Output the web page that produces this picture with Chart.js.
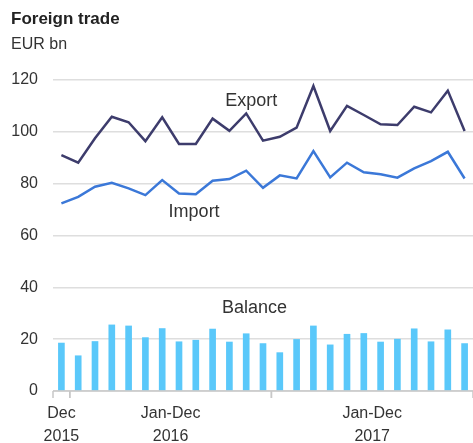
<!DOCTYPE html>
<html>
<head>
<meta charset="utf-8">
<script src="https://cdn.jsdelivr.net/npm/chart.js@4.4.1/dist/chart.umd.min.js"></script>
<style>
  html, body { margin: 0; padding: 0; background: #fff; }
  #wrap { position: relative; width: 473px; height: 443px; font-family: "Liberation Sans", Arial, sans-serif; }
  #title { position: absolute; left: 11px; top: 9px; font-size: 17px; font-weight: bold; color: #222; }
  #unit { position: absolute; left: 11px; top: 35px; font-size: 16px; color: #333; }
  canvas { position: absolute; left: 0; top: 0; }
</style>
</head>
<body>
<div id="wrap">
  <canvas id="chart" width="473" height="443"></canvas>
  <div id="title">Foreign trade</div>
  <div id="unit">EUR bn</div>
</div>
<script>
// Dec 2015 .. Dec 2017, monthly, EUR bn
const months = ['Dec 2015',
  'Jan 2016','Feb 2016','Mar 2016','Apr 2016','May 2016','Jun 2016','Jul 2016','Aug 2016','Sep 2016','Oct 2016','Nov 2016','Dec 2016',
  'Jan 2017','Feb 2017','Mar 2017','Apr 2017','May 2017','Jun 2017','Jul 2017','Aug 2017','Sep 2017','Oct 2017','Nov 2017','Dec 2017'];
const exportVals = [91.0, 88.1, 97.5, 105.8, 103.7, 96.4, 105.6, 95.3, 95.3, 105.1, 100.4, 107.1,
  96.6, 98.1, 101.6, 117.7, 100.3, 110.0, 106.5, 102.9, 102.6, 109.7, 107.5, 115.9, 100.3];
const importVals = [72.4, 74.9, 78.8, 80.3, 78.2, 75.6, 81.4, 76.2, 75.9, 81.1, 81.8, 85.0,
  78.4, 83.2, 82.0, 92.6, 82.4, 88.1, 84.4, 83.6, 82.3, 85.9, 88.7, 92.3, 82.0];
const balanceVals = [18.5, 13.6, 19.1, 25.5, 25.1, 20.6, 24.1, 19.0, 19.6, 23.9, 18.9, 22.1,
  18.3, 14.8, 19.9, 25.1, 17.8, 21.9, 22.2, 18.9, 20.0, 24.0, 19.0, 23.6, 18.3];
const yTicks = [0, 20, 40, 60, 80, 100, 120];

// x axis groups: label lines, first and last month index
const groupLabels = [['Dec', '2015'], ['Jan-Dec', '2016'], ['Jan-Dec', '2017']];
const groupFirst = [0, 1, 13];
const groupLast = [0, 12, 24];

const TXT = '#333', GRID = '#dedede';
const NAVY = '#3d3c6c', BLUE = '#3b78d8', LIGHT = '#5ac8fa';
const FONT = '"Liberation Sans", Arial, sans-serif';

// draws x axis group labels, tick marks and the series labels
const extras = {
  id: 'extras',
  afterDraw(chart) {
    const ctx = chart.ctx, x = chart.scales.x, y = chart.scales.y;
    const bottom = chart.chartArea.bottom;
    ctx.save();
    // baseline
    ctx.strokeStyle = '#c8c8c8';
    ctx.lineWidth = 1.5;
    ctx.beginPath();
    ctx.moveTo(chart.chartArea.left, y.getPixelForValue(0));
    ctx.lineTo(chart.chartArea.right, y.getPixelForValue(0));
    ctx.stroke();
    ctx.font = '16px ' + FONT;
    ctx.fillStyle = TXT;
    ctx.textAlign = 'center';
    ctx.textBaseline = 'middle';
    groupLabels.forEach((lines, i) => {
      const xl = x.getPixelForValue(groupFirst[i] - 0.5);
      const xr = x.getPixelForValue(groupLast[i] + 0.5);
      ctx.beginPath();
      [xl, xr].forEach(px => { ctx.moveTo(px, bottom); ctx.lineTo(px, bottom + 7); });
      ctx.stroke();
      const cx = (xl + xr) / 2;
      ctx.fillText(lines[0], cx, bottom + 23);
      ctx.fillText(lines[1], cx, bottom + 46);
    });
    ctx.font = '18px ' + FONT;
    ctx.fillText('Export', x.getPixelForValue(11.3), y.getPixelForValue(112));
    ctx.fillText('Import', x.getPixelForValue(7.9), y.getPixelForValue(69));
    ctx.fillText('Balance', x.getPixelForValue(11.5), y.getPixelForValue(32));
    ctx.restore();
  }
};

new Chart(document.getElementById('chart'), {
  type: 'bar',
  data: {
    labels: months,
    datasets: [
      { type: 'line', label: 'Export', data: exportVals, borderColor: NAVY, borderWidth: 2.5, pointRadius: 0, tension: 0, order: 1 },
      { type: 'line', label: 'Import', data: importVals, borderColor: BLUE, borderWidth: 2.5, pointRadius: 0, tension: 0, order: 2 },
      { label: 'Balance', data: balanceVals, backgroundColor: LIGHT, barThickness: 6, order: 3 }
    ]
  },
  options: {
    responsive: false,
    animation: false,
    layout: { padding: { left: 8, top: 80, right: 0, bottom: 52 } },
    plugins: { legend: { display: false }, tooltip: { enabled: false } },
    scales: {
      x: { display: false, offset: true },
      y: {
        min: 0, max: 120,
        afterFit(scale) { scale.width = 45; },
        afterBuildTicks(scale) { scale.ticks = yTicks.map(v => ({ value: v })); },
        border: { display: false },
        grid: { color: GRID, lineWidth: 1.5, drawTicks: false },
        ticks: { color: TXT, padding: 15, font: { family: FONT, size: 16 } }
      }
    }
  },
  plugins: [extras]
});
</script>
</body>
</html>
